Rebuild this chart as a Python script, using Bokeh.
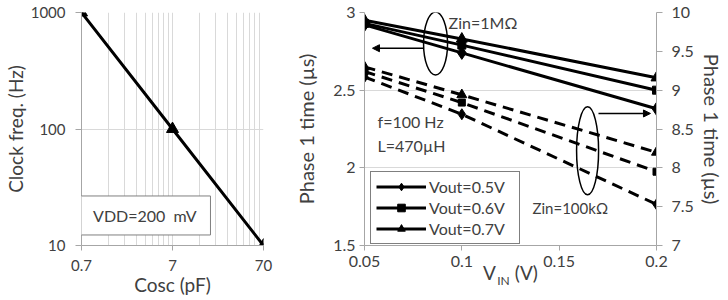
from bokeh.plotting import figure
from bokeh.layouts import row
from bokeh.models import (Range1d, LinearAxis, FixedTicker, CustomJSTickFormatter,
                          Label, Arrow, NormalHead, Legend, LegendItem)
from bokeh.embed import file_html
from bokeh.resources import INLINE

# ---- clock frequency vs oscillator capacitance ----
cosc_pf = [0.7, 7, 70]
clock_hz = [1000, 100, 10]
cosc_ticks = [0.7, 7, 70]
cosc_minor = [1.4, 2.1, 2.8, 3.5, 4.2, 4.9, 5.6, 6.3,
              14, 21, 28, 35, 42, 49, 56, 63]
freq_ticks = [10, 100, 1000]

# ---- phase 1 time vs input voltage ----
vin_v = [0.05, 0.1, 0.2]
vout_labels = ["Vout=0.5V", "Vout=0.6V", "Vout=0.7V"]
vout_markers = ["diamond", "square", "triangle"]
# Zin = 1 MOhm (left axis, us)
t1_zin_1meg = [[2.92, 2.74, 2.38],
               [2.93, 2.79, 2.50],
               [2.95, 2.83, 2.58]]
# Zin = 100 kOhm (right axis, us)
t1_zin_100k = [[9.17, 8.69, 7.53],
               [9.24, 8.84, 7.95],
               [9.30, 8.94, 8.20]]
vin_ticks = [0.05, 0.1, 0.15, 0.2]
t_left_ticks = [1.5, 2, 2.5, 3]
t_right_ticks = [7, 7.5, 8, 8.5, 9, 9.5, 10]

FONT = "Lato"
TXT = "#404040"
GRID = "#d9d9d9"
AXIS = "#a6a6a6"
NBSP = "\u00a0"
fmt = CustomJSTickFormatter(code="return tick.toString();")

solid_size = {"diamond": 13, "square": 8, "triangle": 11}
dash_size = {"diamond": 11, "square": 7, "triangle": 10}


def style_axis(ax, tick_px, title_px, tick_out, tick_standoff, label_standoff):
    ax.axis_line_color = AXIS
    ax.major_tick_line_color = AXIS
    ax.major_tick_out = tick_out
    ax.major_tick_in = 0
    ax.minor_tick_line_color = None
    ax.major_label_text_font = FONT
    ax.major_label_text_font_size = tick_px
    ax.major_label_text_color = TXT
    ax.major_label_standoff = tick_standoff
    ax.axis_label_text_font = FONT
    ax.axis_label_text_font_size = title_px
    ax.axis_label_text_color = TXT
    ax.axis_label_text_font_style = "normal"
    ax.axis_label_standoff = label_standoff
    ax.formatter = fmt


def text_label(fig, x, y, text, size, rng="default", align="left"):
    fig.add_layout(Label(x=x, y=y, text=text, text_font=FONT, text_font_size=size,
                         text_color=TXT, text_align=align, text_baseline="middle",
                         y_range_name=rng))


# ================= left chart =================
left = figure(width=280, height=300, x_axis_type="log", y_axis_type="log",
              x_range=Range1d(0.7, 70), y_range=Range1d(10, 1000),
              output_backend="svg", toolbar_location=None,
              min_border_left=79, min_border_right=17,
              min_border_top=12, min_border_bottom=55)
left.outline_line_color = None
left.xaxis.ticker = FixedTicker(ticks=cosc_ticks, minor_ticks=cosc_minor)
left.yaxis.ticker = FixedTicker(ticks=freq_ticks)
left.xaxis.axis_label = "Cosc (pF)"
left.yaxis.axis_label = "Clock freq. (Hz)"
style_axis(left.xaxis[0], "15px", "19px", 5, 9, -1)
style_axis(left.yaxis[0], "15px", "19px", 6, 10, 1)
left.xgrid.ticker = FixedTicker(ticks=cosc_ticks, minor_ticks=cosc_minor)
left.xgrid.grid_line_color = GRID
left.xgrid.minor_grid_line_color = GRID
left.ygrid.ticker = FixedTicker(ticks=freq_ticks)
left.ygrid.grid_line_color = GRID

left.line(cosc_pf, clock_hz, line_color="black", line_width=3)
left.scatter(cosc_pf, clock_hz, marker="triangle", size=12,
             fill_color="black", line_color="black")

left.add_layout(Label(x=3.47, y=18.1, text="VDD=200" + NBSP + NBSP + "mV",
                      text_align="center", text_baseline="middle", text_font=FONT,
                      text_font_size="16px", text_color=TXT,
                      padding=dict(left=14, right=14, top=10, bottom=10),
                      border_line_color="#7f7f7f", border_line_width=1,
                      background_fill_color="white", background_fill_alpha=1,
                      level="overlay"))

# ================= right chart =================
right = figure(width=448, height=300,
               x_range=Range1d(0.05, 0.2), y_range=Range1d(1.5, 3),
               output_backend="svg", toolbar_location=None,
               min_border_left=84, min_border_right=72,
               min_border_top=12, min_border_bottom=52)
right.outline_line_color = None
right.extra_y_ranges = {"r": Range1d(7, 10)}
right.xaxis.ticker = FixedTicker(ticks=vin_ticks)
right.xaxis.axis_label = "V" + NBSP * 4 + "(V)"
right.yaxis.ticker = FixedTicker(ticks=t_left_ticks)
right.yaxis.axis_label = "Phase 1 time (µs)"
style_axis(right.xaxis[0], "16px", "19px", 5, 5, -9)
style_axis(right.yaxis[0], "16px", "20px", 5, 4, 12)
raxis = LinearAxis(y_range_name="r", ticker=FixedTicker(ticks=t_right_ticks),
                   axis_label="Phase 1 time (µs)")
style_axis(raxis, "16px", "20px", 6, 9, 3)
right.add_layout(raxis, "right")

# subscript "IN" of the x-axis title, drawn as the single label of a bare axis
sub_axis = LinearAxis(ticker=FixedTicker(ticks=[0.1214]),
                      formatter=CustomJSTickFormatter(code="return 'IN';"),
                      axis_line_color=None, major_tick_line_color=None,
                      minor_tick_line_color=None, major_tick_out=0, major_tick_in=0,
                      major_label_text_font=FONT, major_label_text_font_size="12px",
                      major_label_text_color=TXT, major_label_standoff=-14)
right.add_layout(sub_axis, "below")

right.xgrid.grid_line_color = None
right.ygrid.ticker = FixedTicker(ticks=t_left_ticks)
right.ygrid.grid_line_color = GRID

items = []
for lab, mk, ys in zip(vout_labels, vout_markers, t1_zin_1meg):
    ln = right.line(vin_v, ys, line_color="black", line_width=3)
    sc = right.scatter(vin_v, ys, marker=mk, size=solid_size[mk],
                       fill_color="black", line_color="black")
    items.append(LegendItem(label=lab, renderers=[ln, sc]))
for mk, ys in zip(vout_markers, t1_zin_100k):
    right.line(vin_v, ys, line_color="black", line_width=3,
               line_dash="11 7", y_range_name="r")
    right.scatter(vin_v, ys, marker=mk, size=dash_size[mk],
                  fill_color="black", line_color="black", y_range_name="r")

legend = Legend(items=items, location=(6, 1), orientation="vertical",
                border_line_color="black", border_line_width=1,
                background_fill_color="white", background_fill_alpha=1,
                glyph_width=50, glyph_height=19, label_height=19, label_width=85,
                label_standoff=3, spacing=2, padding=5, margin=0,
                label_text_font=FONT, label_text_font_size="16px",
                label_text_color=TXT)
right.add_layout(legend)

# group markers and arrows pointing to the relevant axis
right.ellipse(x=[0.0865], y=[2.80], width=24, height=63,
              width_units="screen", height_units="screen",
              fill_color=None, line_color="black", line_width=1.5)
right.ellipse(x=[0.1646], y=[8.22], width=22, height=88,
              width_units="screen", height_units="screen",
              fill_color=None, line_color="black", line_width=1.5,
              y_range_name="r")
right.add_layout(Arrow(end=NormalHead(size=7, fill_color="black", line_color="black"),
                       x_start=0.0803, y_start=2.77, x_end=0.0541, y_end=2.77,
                       line_color="black", line_width=1.5))
right.add_layout(Arrow(end=NormalHead(size=7, fill_color="black", line_color="black"),
                       x_start=0.1702, y_start=8.70, x_end=0.1969, y_end=8.70,
                       line_color="black", line_width=1.5, y_range_name="r"))

text_label(right, 0.0932, 2.936, "Zin=1MΩ", "16px")
text_label(right, 0.0567, 2.30, "f=100 Hz", "16px")
text_label(right, 0.0567, 2.142, "L=470µH", "16px")
text_label(right, 0.1363, 7.48, "Zin=100kΩ", "15px", rng="r")

layout = row(left, right)
open("out.html", "w").write(file_html(layout, INLINE))
